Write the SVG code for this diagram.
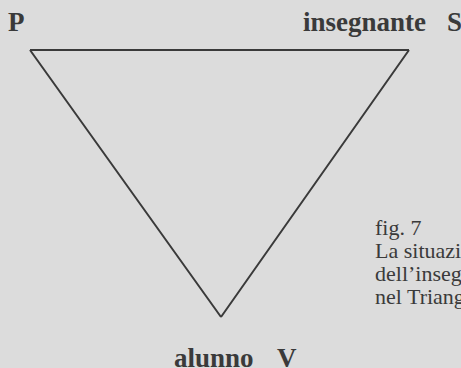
<svg xmlns="http://www.w3.org/2000/svg" width="461" height="368" viewBox="0 0 461 368">
<style>
.lbl{font-family:"Liberation Serif","Times New Roman",serif;font-weight:bold;font-size:27px;fill:#3a3a3a}
.cap{font-family:"Liberation Serif","Times New Roman",serif;font-size:22px;fill:#3a3a3a}
.edge{stroke:#3a3a3a;stroke-width:2;fill:none;stroke-linejoin:miter}
</style>
<rect width="461" height="368" fill="#dcdcdc"/>
<g id="connectors">
<path class="edge" d="M30,50 L409,50 M30,50 L221,317 M409,50 L221,317"/>
</g>
<g id="node-P"><text class="lbl" x="8" y="31">P</text></g>
<g id="node-S"><text class="lbl" x="303" y="31">insegnante</text><text class="lbl" x="447" y="31">S</text></g>
<g id="node-V"><text class="lbl" x="174" y="367">alunno</text><text class="lbl" x="277" y="367">V</text></g>
<g id="caption">
<text class="cap" x="375" y="235">fig. 7</text>
<text class="cap" x="375" y="258">La situazione</text>
<text class="cap" x="375" y="281">dell’insegnante</text>
<text class="cap" x="375" y="304">nel Triangolo</text>
</g>
</svg>
